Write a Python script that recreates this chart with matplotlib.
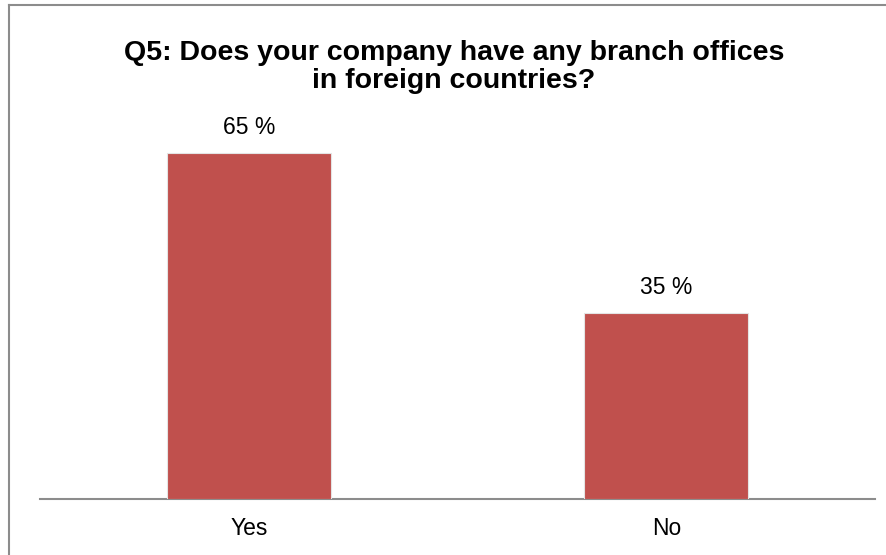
import matplotlib
matplotlib.use("Agg")
import matplotlib.pyplot as plt
from matplotlib.lines import Line2D

categories = ["Yes", "No"]
values = [65, 35]
labels = ["65 %", "35 %"]
title = "Q5: Does your company have any branch offices\nin foreign countries?"

W, H = 886, 555
fig = plt.figure(figsize=(W/100, H/100), dpi=100)
plt.rcParams['font.family'] = ['Liberation Sans', 'DejaVu Sans']

# figure border (top and left visible)
fig.add_artist(Line2D([9/W, 9/W], [0, 1-5/H], transform=fig.transFigure, color='#8c8c8c', lw=1.5))
fig.add_artist(Line2D([9/W, 1], [1-5/H, 1-5/H], transform=fig.transFigure, color='#8c8c8c', lw=1.5))

ax = fig.add_axes([40/W, (H-499)/H, (875-40)/W, (499-100)/H])
x = list(range(len(categories)))
ax.bar(x, values, width=0.393, color='#C0504D', edgecolor='#e4e4e4', linewidth=0.8, zorder=3)
ax.set_xlim(-0.5, 1.5)
ax.set_ylim(0, 75)
for xi, v, lab in zip(x, values, labels):
    ax.annotate(lab, (xi, v), xytext=(0, 13.7), textcoords='offset points',
                ha='center', va='baseline', fontsize=16.5, color='black')
for s in ['top', 'right', 'left']:
    ax.spines[s].set_visible(False)
ax.spines['bottom'].set_color('#8c8c8c')
ax.spines['bottom'].set_linewidth(1.5)
ax.set_yticks([])
ax.set_xticks(x)
ax.set_xticklabels(categories, fontsize=16.5)
ax.tick_params(axis='x', length=0, pad=13)

fig.text(454/W, 1-88/H, title, ha='center', va='baseline', fontsize=20.5,
         fontweight='bold', linespacing=1.12)

fig.savefig("out.png", dpi=100)
